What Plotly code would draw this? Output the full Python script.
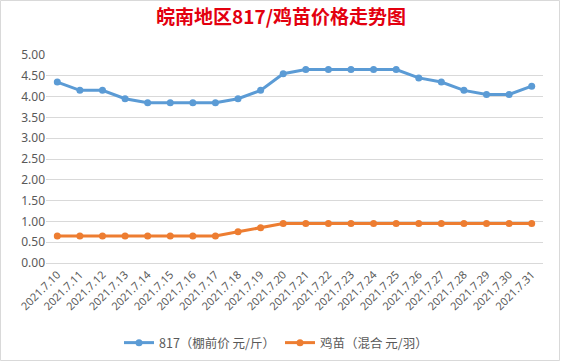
import plotly.graph_objects as go

dates = ["2021.7.10", "2021.7.11", "2021.7.12", "2021.7.13", "2021.7.14", "2021.7.15",
         "2021.7.16", "2021.7.17", "2021.7.18", "2021.7.19", "2021.7.20", "2021.7.21",
         "2021.7.22", "2021.7.23", "2021.7.24", "2021.7.25", "2021.7.26", "2021.7.27",
         "2021.7.28", "2021.7.29", "2021.7.30", "2021.7.31"]
price_817 = [4.35, 4.15, 4.15, 3.95, 3.85, 3.85, 3.85, 3.85, 3.95, 4.15, 4.55, 4.65,
             4.65, 4.65, 4.65, 4.65, 4.45, 4.35, 4.15, 4.05, 4.05, 4.25]
price_chick = [0.65, 0.65, 0.65, 0.65, 0.65, 0.65, 0.65, 0.65, 0.75, 0.85, 0.95, 0.95,
               0.95, 0.95, 0.95, 0.95, 0.95, 0.95, 0.95, 0.95, 0.95, 0.95]
y_ticks = [0, 0.5, 1.0, 1.5, 2.0, 2.5, 3.0, 3.5, 4.0, 4.5, 5.0]

name_817 = "817（棚前价 元/斤）"
name_chick = "鸡苗（混合 元/羽）"

fig = go.Figure()
fig.add_trace(go.Scatter(x=dates, y=price_817, name=name_817, mode="lines+markers",
                         line=dict(color="#5B9BD5", width=3),
                         marker=dict(color="#5B9BD5", size=7)))
fig.add_trace(go.Scatter(x=dates, y=price_chick, name=name_chick, mode="lines+markers",
                         line=dict(color="#ED7D31", width=3),
                         marker=dict(color="#ED7D31", size=7)))

fig.update_layout(
    width=562, height=364,
    margin=dict(l=46, r=19, t=55, b=101),
    paper_bgcolor="white", plot_bgcolor="white",
    font=dict(family="Noto Sans CJK SC, Noto Sans, sans-serif", color="#595959", size=11),
    title=dict(text="<b>皖南地区817/鸡苗价格走势图</b>", x=0.5, xanchor="center",
               y=1 - 17 / 364, yanchor="middle",
               font=dict(family="Noto Sans CJK SC", size=19, color="#E3000F")),
    showlegend=True,
    legend=dict(orientation="h", xref="container", yref="container",
                x=276 / 562, xanchor="center", y=1 - 343 / 364, yanchor="middle",
                font=dict(size=12.5, color="#595959"), itemwidth=30, tracegroupgap=0),
    xaxis=dict(type="category", range=[-0.5, len(dates) - 0.5], tickangle=-45,
               showgrid=False, showline=True, linecolor="#D9D9D9", ticks="",
               automargin=False,
               tickfont=dict(family="Noto Sans, sans-serif", size=11, color="#595959")),
    yaxis=dict(range=[0, 5.0], tickvals=y_ticks, tickformat=".2f",
               showgrid=True, gridcolor="#D9D9D9", gridwidth=1, zeroline=False,
               showline=False, ticks="", automargin=False,
               tickfont=dict(family="Noto Sans, sans-serif", size=12, color="#595959")),
    shapes=[dict(type="rect", xref="paper", yref="paper",
                 x0=-45.5 / 497, x1=1 + 16.5 / 497, y0=-97.5 / 208, y1=1 + 54.5 / 208,
                 line=dict(color="#D9D9D9", width=1), fillcolor="rgba(0,0,0,0)")],
)

fig.write_html("out.html", config={"displayModeBar": False},
               post_script="document.body.style.margin='0';document.body.style.overflow='hidden';")
